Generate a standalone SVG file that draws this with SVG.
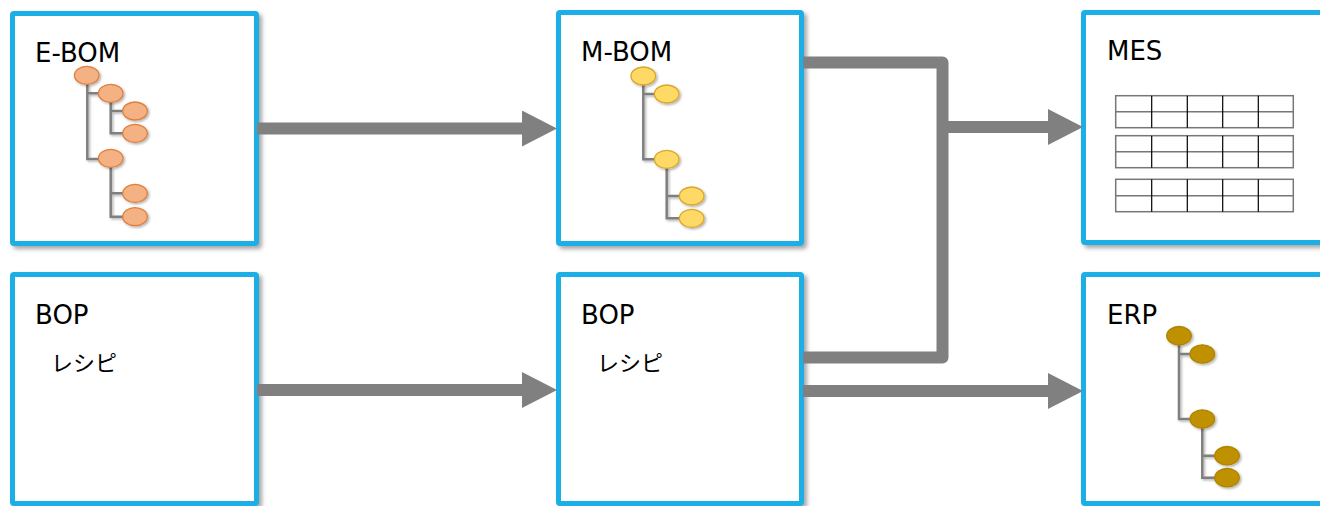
<svg xmlns="http://www.w3.org/2000/svg" width="1320" height="506" viewBox="0 0 1320 506">
  <defs>
    <filter id="boxShadow" x="-5%" y="-5%" width="115%" height="115%">
      <feDropShadow dx="3" dy="3" stdDeviation="2" flood-color="#000" flood-opacity="0.35"/>
    </filter>
    <filter id="itemShadow" x="-30%" y="-30%" width="170%" height="170%">
      <feDropShadow dx="1.5" dy="1.5" stdDeviation="1" flood-color="#000" flood-opacity="0.3"/>
    </filter>
    <marker id="head" markerUnits="userSpaceOnUse" viewBox="0 0 35 36" markerWidth="35" markerHeight="36" refX="0" refY="18" orient="auto">
      <path d="M0,0 L35,18 L0,36 Z" fill="#808080"/>
    </marker>
    <style>
      .box { fill: #fff; stroke: #1DAFE5; stroke-width: 5; filter: url(#boxShadow); }
      .title { font-family: "DejaVu Sans", Verdana, sans-serif; font-size: 26px; fill: #000; }
      .sub { font-family: "Noto Sans CJK JP", "DejaVu Sans", sans-serif; font-size: 22px; fill: #000; }
      .conn { fill: none; stroke: #808080; stroke-width: 12; }
      .branch { fill: none; stroke: #7F7F7F; stroke-width: 2.5; filter: url(#itemShadow); }
      .orange { fill: #F4B183; stroke: #E07E3C; stroke-width: 1.3; filter: url(#itemShadow); }
      .yellow { fill: #FFD966; stroke: #D9A72A; stroke-width: 1.3; filter: url(#itemShadow); }
      .gold { fill: #BF9000; stroke: #B08400; stroke-width: 1.3; filter: url(#itemShadow); }
      .tbl { fill: #fff; stroke: #777; stroke-width: 1.5; }
      .col { stroke: #000; stroke-width: 1.2; }
      .row { stroke: #777; stroke-width: 1.5; }
    </style>
  </defs>

  <!-- E-BOM -->
  <g id="ebom">
    <rect class="box" x="12.5" y="13.5" width="244" height="230" rx="1.5"/>
    <text class="title" x="35" y="62">E-BOM</text>
    <path class="branch" d="M87.3,84 V159 H100 M87.3,93.3 H100 M110.7,101 V133.3 H124 M110.7,111 H124 M110.7,167 V216.7 H124 M110.7,193.3 H124"/>
    <ellipse class="orange" cx="86.7" cy="75.3" rx="12.3" ry="9"/>
    <ellipse class="orange" cx="110.7" cy="93.3" rx="12.3" ry="9"/>
    <ellipse class="orange" cx="135" cy="111" rx="12.3" ry="9"/>
    <ellipse class="orange" cx="135" cy="133.3" rx="12.3" ry="9"/>
    <ellipse class="orange" cx="110.7" cy="158.3" rx="12.3" ry="9"/>
    <ellipse class="orange" cx="135" cy="193.3" rx="12.3" ry="9"/>
    <ellipse class="orange" cx="135" cy="216.7" rx="12.3" ry="9"/>
  </g>

  <!-- M-BOM -->
  <g id="mbom">
    <rect class="box" x="558.5" y="12.5" width="243" height="231" rx="1.5"/>
    <text class="title" x="581" y="61">M-BOM</text>
    <path class="branch" d="M643.3,85 V159.3 H656 M643.3,94 H656 M666.7,168 V218.3 H680 M666.7,196 H680"/>
    <ellipse class="yellow" cx="643.3" cy="76" rx="12.3" ry="9"/>
    <ellipse class="yellow" cx="666.7" cy="94" rx="12.3" ry="9"/>
    <ellipse class="yellow" cx="666.7" cy="159.3" rx="12.3" ry="9"/>
    <ellipse class="yellow" cx="691.7" cy="196" rx="12.3" ry="9"/>
    <ellipse class="yellow" cx="691.7" cy="218.3" rx="12.3" ry="9"/>
  </g>

  <!-- MES -->
  <g id="mes">
    <rect class="box" x="1083.5" y="12.5" width="260" height="230" rx="1.5"/>
    <text class="title" x="1107" y="60">MES</text>
    <g id="mes-table-1">
      <rect class="tbl" x="1115.7" y="95.7" width="177.6" height="32"/>
      <line class="row" x1="1115.7" y1="111.7" x2="1293.3" y2="111.7"/>
      <path class="col" d="M1151.7,95.7 V127.7 M1187.3,95.7 V127.7 M1222.7,95.7 V127.7 M1258.3,95.7 V127.7"/>
    </g>
    <g id="mes-table-2">
      <rect class="tbl" x="1115.7" y="135.7" width="177.6" height="32"/>
      <line class="row" x1="1115.7" y1="151.7" x2="1293.3" y2="151.7"/>
      <path class="col" d="M1151.7,135.7 V167.7 M1187.3,135.7 V167.7 M1222.7,135.7 V167.7 M1258.3,135.7 V167.7"/>
    </g>
    <g id="mes-table-3">
      <rect class="tbl" x="1115.7" y="179.3" width="177.6" height="32.4"/>
      <line class="row" x1="1115.7" y1="195.7" x2="1293.3" y2="195.7"/>
      <path class="col" d="M1151.7,179.3 V211.7 M1187.3,179.3 V211.7 M1222.7,179.3 V211.7 M1258.3,179.3 V211.7"/>
    </g>
  </g>

  <!-- BOP (design side) -->
  <g id="bop-design">
    <rect class="box" x="12.5" y="274.5" width="244" height="229" rx="1.5"/>
    <text class="title" x="35" y="324">BOP</text>
    <text class="sub" x="51" y="371">レシピ</text>
  </g>

  <!-- BOP (manufacturing side) -->
  <g id="bop-mfg">
    <rect class="box" x="558.5" y="274.5" width="243" height="229" rx="1.5"/>
    <text class="title" x="581" y="324">BOP</text>
    <text class="sub" x="597" y="371">レシピ</text>
  </g>

  <!-- ERP -->
  <g id="erp">
    <rect class="box" x="1083.5" y="274.5" width="260" height="229" rx="1.5"/>
    <text class="title" x="1107" y="324">ERP</text>
    <path class="branch" d="M1179,344 V419 H1190 M1179,354 H1190 M1202.3,428 V477.7 H1215 M1202.3,455.7 H1215"/>
    <ellipse class="gold" cx="1179" cy="335.7" rx="12.3" ry="9.2"/>
    <ellipse class="gold" cx="1202.3" cy="354" rx="12.3" ry="9.2"/>
    <ellipse class="gold" cx="1202.3" cy="419" rx="12.3" ry="9.2"/>
    <ellipse class="gold" cx="1227" cy="455.7" rx="12.3" ry="9.2"/>
    <ellipse class="gold" cx="1227" cy="477.7" rx="12.3" ry="9.2"/>
  </g>

  <!-- Connectors -->
  <g id="connectors">
    <path class="conn" d="M257,128.5 H522" marker-end="url(#head)"/>
    <path class="conn" d="M257,390 H522" marker-end="url(#head)"/>
    <path class="conn" d="M803,62.5 H942.5 V357.5 H803" stroke-linejoin="round"/>
    <path class="conn" d="M942.5,127 H1048" marker-end="url(#head)"/>
    <path class="conn" d="M803,391 H1048" marker-end="url(#head)"/>
  </g>
</svg>
